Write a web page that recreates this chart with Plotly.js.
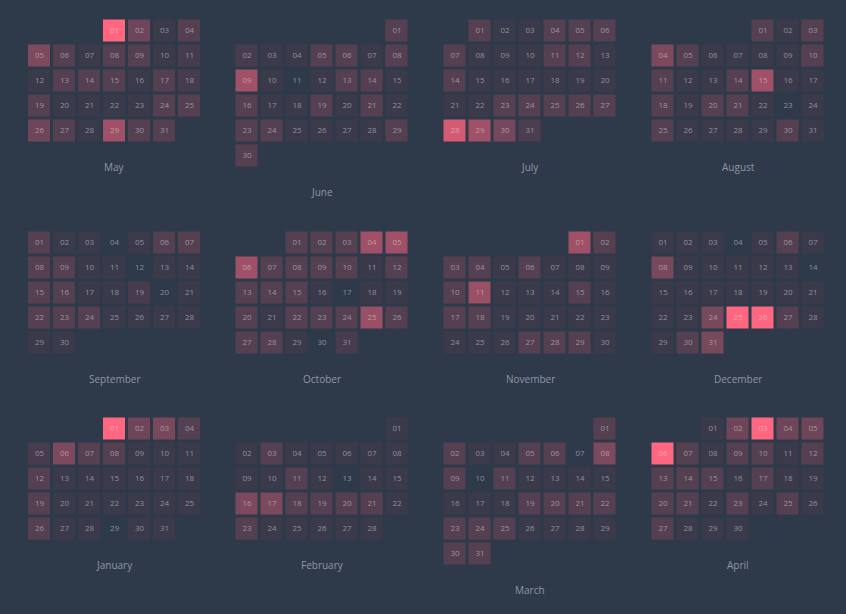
<!DOCTYPE html>
<html><head><meta charset="utf-8">
<script src="https://cdn.plot.ly/plotly-3.0.1.min.js"></script>
<style>html,body{margin:0;padding:0;background:#2e3a4a;}</style>
</head><body><div id="chart" style="width:846px;height:614px;"></div>
<script>
const monthNames = ['May','June','July','August','September','October','November','December','January','February','March','April'];
const monthYears = [2014,2014,2014,2014,2014,2014,2014,2014,2015,2015,2015,2015];
const monthIndex = [4,5,6,7,8,9,10,11,0,1,2,3];

const mayValues = [10,3.4,1,2.2,4,2.2,1,2.2,2.2,1,1.5,1,2.2,2.2,2.2,1,2.2,1.5,2.2,1,1,1,1,2.2,2.2,3.4,2.2,1,5.7,2.2,2.2];
const junValues = [2.2,1.5,1,1,2.2,2.2,1,2.2,5.7,1,0,1,2.2,2.2,1,2.2,1,1,2.2,1,2.2,1,2.2,2.2,1,1,1,1,2.2,2.2];
const julValues = [2.2,1,1,2.2,2.2,2.2,2.2,1,1,1,2.2,2.2,1,2.2,1,1,1,1,1,1,1,1,2.2,2.2,2.2,2.2,2.2,8,5.7,3.6,1.8];
const augValues = [2.2,1,2.2,4,2.2,1,1,1,1,2.2,2.2,1,1,2.2,5.7,1,1,2.2,1,2.2,2.2,1,0,1,2.2,1,1,1,1,2.2,1];
const sepValues = [2.2,1,1,0,1,2.2,2.2,2.2,2.2,1,1,0,1,1,2.2,2.2,1,1,1.5,0,1,2.2,2.2,2.2,1,1,1,1,1,1];
const octValues = [2.2,2.2,2.2,5.7,5.7,5.7,2.2,2.2,2.2,2.2,1,2.2,2.2,2.2,2.2,1,0,1,1,2.2,1,2.2,2.2,2.2,5.3,2.2,2.2,2.2,1,0,1.5];
const novValues = [5.7,2.2,2.2,2.2,1,2.2,1,1,1,2.2,5.3,1,1,1,2.2,1,2.2,2.2,1,1,1,1,1,1,1,1,2.2,2.2,2.2,1];
const decValues = [1,1,1,0,1,2.2,1,3.8,1,1,1,1,1,0,1,1,1,1,1,1,1,1,1,3.8,10,10,2.2,1,1,2.2,3.8];
const janValues = [10,3.4,3.8,2.2,1.5,4,2.2,2.2,1,1,1,2.2,1,1,1,1,1,1,2.2,1,1,1,1,1,1,2.2,1,1,0,1,1];
const febValues = [1,1,2.2,1,1,1,1,1,1,1,2.2,1,0,1,1,4,4,2.2,2.2,2.2,2.2,1,2.2,1,1,1,1,1];
const marValues = [2.2,2.2,1,1,2.2,2.2,0,4,2.2,0,2.2,1,1,1,1,1,1,1,2.2,2.2,2.2,2.2,2.2,2.2,2.2,1,1,1,1,2.2,2.2];
const aprValues = [1,3.4,10,3.4,3.4,10,2.2,1,2.2,2.2,1,2.2,2.2,2.2,2.2,1,2.2,1,1,2.2,2.2,1,2.2,1,2.2,1,2.2,1,1,1];

const allValues = [mayValues,junValues,julValues,augValues,sepValues,octValues,novValues,decValues,janValues,febValues,marValues,aprValues];

const W = 846, H = 614, PITCH = 25;
const colLeft = [27, 234.5, 442.5, 650.5];
const rowTop = [18.5, 230.5, 416.5];
const Y_MAX = 6.9;

const traces = [];
const layout = {
  width: W, height: H,
  margin: {l:0, r:0, t:0, b:0},
  paper_bgcolor: '#2e3a4a', plot_bgcolor: '#2e3a4a',
  showlegend: false, hovermode: false,
  annotations: []
};

for (let i = 0; i < 12; i++) {
  const sfx = i === 0 ? '' : String(i + 1);
  const xa = 'x' + sfx, ya = 'y' + sfx;
  const vals = allValues[i];
  const first = new Date(monthYears[i], monthIndex[i], 1).getDay();
  const offset = (first + 6) % 7;
  const z = [];
  for (let r = 0; r < 6; r++) z.push([null,null,null,null,null,null,null]);
  const tx = [], ty = [], tt = [];
  for (let d = 1; d <= vals.length; d++) {
    const pos = offset + d - 1;
    const r = Math.floor(pos / 7), c = pos % 7;
    const v = vals[d - 1];
    z[r][c] = v > 0 ? v : null;
    tx.push(c); ty.push(r); tt.push(String(d).padStart(2, '0'));
  }
  const nRows = Math.floor((offset + vals.length - 1) / 7) + 1;
  traces.push({
    type: 'heatmap', x: [0,1,2,3,4,5,6], y: [0,1,2,3,4,5], z: z,
    xaxis: xa, yaxis: ya, xgap: 3, ygap: 3,
    zmin: 1, zmax: 10,
    colorscale: [[0, '#3b3a4b'], [1, '#ff6680']],
    showscale: false, hoverinfo: 'skip'
  });
  traces.push({
    type: 'scatter', mode: 'text', x: tx, y: ty, text: tt,
    xaxis: xa, yaxis: ya, cliponaxis: false,
    textfont: {family: 'Open Sans, sans-serif', size: 8, color: 'rgba(215,215,222,0.55)'},
    hoverinfo: 'skip'
  });
  const gc = i % 4, gr = Math.floor(i / 4);
  const l = colLeft[gc], t = rowTop[gr];
  const hgt = (Y_MAX + 0.5) * PITCH;
  layout['xaxis' + sfx] = {domain: [l / W, (l + 7 * PITCH) / W], range: [-0.5, 6.5], visible: false, fixedrange: true, anchor: ya};
  layout['yaxis' + sfx] = {domain: [1 - (t + hgt) / H, 1 - t / H], range: [Y_MAX, -0.5], visible: false, fixedrange: true, anchor: xa};
  layout.annotations.push({
    xref: xa, yref: ya, x: 3, y: nRows - 1 + 1.44,
    text: monthNames[i], showarrow: false,
    font: {family: 'Open Sans, sans-serif', size: 10, color: '#8e97a3'}
  });
}

Plotly.newPlot('chart', traces, layout, {displayModeBar: false, staticPlot: true});
</script>
</body></html>
